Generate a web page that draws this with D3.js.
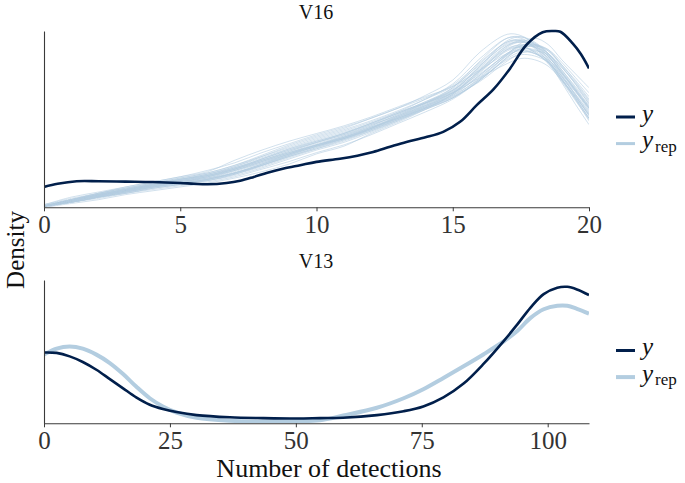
<!DOCTYPE html>
<html>
<head>
<meta charset="utf-8">
<script src="https://cdn.jsdelivr.net/npm/d3@7"></script>
<style>
  html, body { margin: 0; padding: 0; background: #ffffff; }
  svg { display: block; }
  text { font-family: "Liberation Serif", "Times New Roman", serif; }
</style>
</head>
<body>
<svg id="chart" width="685" height="483"></svg>
<script>
// ---------------- DATA ----------------
const panelTitles = ["V16", "V13"];
const xAxisTitle = "Number of detections";
const yAxisTitle = "Density";
const legendLabels = ["y", "rep"];

// Panel V16: observed density
const v16ObsX = [0, 0.5, 1.2, 2, 3, 4, 5, 5.5, 6, 6.7, 7.2, 7.7, 8.2, 8.8, 9.4, 10, 10.86, 11.5, 12.08, 12.7, 13.3, 14, 14.65, 15.27, 15.88, 16.5, 17.1, 17.7, 18.3, 18.7, 18.95, 19.4, 19.7, 20];
const v16ObsDensity = [0.0160, 0.0185, 0.0205, 0.0205, 0.0202, 0.0199, 0.0191, 0.0185, 0.0181, 0.0191, 0.0209, 0.0239, 0.0272, 0.0305, 0.0331, 0.0357, 0.0382, 0.0406, 0.0435, 0.0476, 0.0514, 0.0550, 0.0593, 0.0672, 0.0803, 0.0929, 0.1090, 0.1276, 0.1376, 0.1386, 0.1380, 0.1289, 0.1205, 0.1092];

// Panel V16: replicated densities (one array per draw)
const v16RepX = [0, 1, 2, 3, 4, 5, 6, 7, 8, 9, 10, 11, 12, 13, 14, 15, 16, 17, 17.5, 18, 18.5, 19, 19.5, 20];
const v16RepDensities = [
  [0.001,0.006,0.011,0.015,0.019,0.023,0.027,0.033,0.041,0.049,0.056,0.062,0.070,0.078,0.088,0.100,0.122,0.136,0.135,0.128,0.117,0.103,0.088,0.072],
  [0.001,0.004,0.008,0.012,0.016,0.019,0.022,0.027,0.033,0.040,0.047,0.053,0.060,0.068,0.077,0.086,0.101,0.120,0.129,0.133,0.128,0.116,0.105,0.094],
  [0.001,0.006,0.011,0.015,0.019,0.023,0.027,0.033,0.040,0.047,0.054,0.060,0.067,0.075,0.082,0.090,0.102,0.113,0.117,0.116,0.111,0.100,0.087,0.072],
  [0.002,0.008,0.012,0.016,0.020,0.024,0.028,0.037,0.045,0.052,0.058,0.064,0.071,0.079,0.087,0.095,0.108,0.121,0.124,0.121,0.114,0.100,0.086,0.070],
  [0.000,0.003,0.006,0.010,0.013,0.016,0.019,0.023,0.028,0.034,0.042,0.048,0.058,0.067,0.077,0.089,0.108,0.127,0.131,0.129,0.121,0.108,0.094,0.080],
  [0.001,0.005,0.009,0.013,0.017,0.020,0.023,0.028,0.035,0.042,0.049,0.055,0.062,0.071,0.080,0.090,0.106,0.124,0.128,0.126,0.119,0.105,0.091,0.076],
  [0.001,0.004,0.008,0.012,0.016,0.020,0.024,0.030,0.037,0.044,0.051,0.057,0.064,0.073,0.082,0.093,0.111,0.129,0.131,0.126,0.116,0.101,0.085,0.068],
  [0.001,0.005,0.010,0.014,0.018,0.021,0.024,0.029,0.036,0.043,0.050,0.056,0.063,0.070,0.078,0.086,0.100,0.118,0.125,0.127,0.123,0.112,0.099,0.085],
  [0.001,0.005,0.009,0.013,0.017,0.021,0.025,0.031,0.038,0.045,0.051,0.057,0.065,0.074,0.083,0.092,0.107,0.123,0.126,0.123,0.115,0.101,0.086,0.070],
  [0.001,0.004,0.008,0.012,0.016,0.019,0.021,0.025,0.031,0.038,0.045,0.051,0.059,0.068,0.078,0.088,0.104,0.121,0.127,0.128,0.124,0.112,0.100,0.087],
  [0.002,0.006,0.010,0.014,0.018,0.022,0.026,0.032,0.039,0.046,0.052,0.058,0.066,0.074,0.083,0.094,0.113,0.130,0.132,0.128,0.119,0.104,0.089,0.074],
  [0.001,0.005,0.009,0.013,0.016,0.019,0.022,0.026,0.032,0.039,0.046,0.053,0.061,0.070,0.079,0.089,0.103,0.119,0.124,0.124,0.118,0.106,0.093,0.079],
  [0.001,0.005,0.010,0.014,0.017,0.020,0.023,0.029,0.036,0.043,0.049,0.054,0.062,0.072,0.082,0.094,0.115,0.133,0.134,0.129,0.120,0.106,0.092,0.077],
  [0.000,0.004,0.008,0.011,0.015,0.018,0.021,0.026,0.033,0.041,0.048,0.055,0.063,0.071,0.079,0.087,0.099,0.115,0.121,0.123,0.120,0.110,0.098,0.084],
  [0.001,0.005,0.009,0.013,0.017,0.021,0.025,0.030,0.036,0.042,0.048,0.054,0.061,0.069,0.077,0.086,0.100,0.117,0.122,0.121,0.116,0.105,0.092,0.078],
  [0.001,0.006,0.010,0.014,0.018,0.022,0.025,0.030,0.037,0.044,0.051,0.058,0.066,0.075,0.085,0.097,0.117,0.133,0.133,0.126,0.114,0.098,0.081,0.065],
  [0.001,0.005,0.009,0.013,0.017,0.020,0.024,0.030,0.038,0.046,0.053,0.059,0.066,0.074,0.082,0.091,0.105,0.120,0.123,0.121,0.114,0.102,0.089,0.075],
  [0.001,0.004,0.008,0.012,0.015,0.018,0.021,0.026,0.033,0.040,0.047,0.054,0.062,0.071,0.081,0.092,0.110,0.127,0.130,0.127,0.119,0.106,0.092,0.078],
  [0.002,0.007,0.011,0.015,0.019,0.022,0.025,0.031,0.038,0.045,0.052,0.058,0.065,0.072,0.080,0.088,0.101,0.116,0.120,0.119,0.114,0.103,0.091,0.078],
  [0.001,0.005,0.009,0.013,0.017,0.020,0.023,0.027,0.034,0.041,0.048,0.054,0.061,0.069,0.078,0.089,0.107,0.126,0.130,0.128,0.121,0.108,0.095,0.082],
  [0.001,0.005,0.010,0.014,0.018,0.022,0.026,0.031,0.037,0.043,0.049,0.055,0.063,0.072,0.081,0.090,0.104,0.121,0.127,0.128,0.123,0.111,0.097,0.081],
  [0.001,0.004,0.008,0.011,0.015,0.018,0.022,0.027,0.034,0.042,0.049,0.056,0.064,0.073,0.082,0.092,0.109,0.125,0.127,0.122,0.113,0.099,0.084,0.069],
  [0.001,0.006,0.010,0.014,0.018,0.021,0.024,0.029,0.035,0.042,0.049,0.055,0.062,0.070,0.080,0.091,0.111,0.131,0.134,0.130,0.121,0.107,0.093,0.079],
  [0.001,0.005,0.009,0.013,0.016,0.019,0.022,0.027,0.034,0.041,0.048,0.054,0.062,0.070,0.078,0.087,0.102,0.120,0.126,0.126,0.121,0.110,0.097,0.083],
  [0.001,0.006,0.011,0.016,0.020,0.024,0.029,0.035,0.043,0.050,0.057,0.063,0.070,0.078,0.086,0.096,0.114,0.130,0.131,0.125,0.115,0.100,0.085,0.070],
  [0.001,0.004,0.007,0.011,0.014,0.017,0.020,0.024,0.030,0.036,0.043,0.049,0.057,0.066,0.075,0.085,0.100,0.118,0.125,0.127,0.124,0.114,0.102,0.090],
  [0.001,0.005,0.010,0.014,0.018,0.022,0.026,0.032,0.040,0.048,0.055,0.061,0.068,0.076,0.085,0.095,0.112,0.128,0.130,0.126,0.117,0.103,0.088,0.073],
  [0.001,0.005,0.009,0.012,0.016,0.019,0.022,0.027,0.033,0.040,0.046,0.052,0.060,0.069,0.079,0.090,0.108,0.124,0.126,0.122,0.114,0.101,0.087,0.073]
];
const v16Ticks = [0, 5, 10, 15, 20];

// Panel V13: observed and replicated densities
const v13X = [0, 2.5, 5.1, 7.7, 10.4, 13, 15.7, 18.3, 21, 23.6, 26.3, 30.3, 36.9, 43.5, 50.2, 54.8, 59.4, 66.1, 71.4, 75.3, 79.3, 83.3, 87.3, 91.3, 93.9, 96.6, 99.2, 101.9, 103.9, 105.8, 108.2];
const v13ObsDensity = [0.0164, 0.0163, 0.0155, 0.0142, 0.0124, 0.0103, 0.0081, 0.0060, 0.0043, 0.0033, 0.0026, 0.0019, 0.0014, 0.0012, 0.0011, 0.0012, 0.0013, 0.0019, 0.0028, 0.0039, 0.0060, 0.0092, 0.0138, 0.0191, 0.0228, 0.0268, 0.0299, 0.0314, 0.0316, 0.0310, 0.0297];
const v13RepDensity = [0.0159, 0.0173, 0.0178, 0.0173, 0.0159, 0.0140, 0.0114, 0.0085, 0.0058, 0.0039, 0.0025, 0.0013, 0.0006, 0.0004, 0.0005, 0.0007, 0.0018, 0.0036, 0.0058, 0.0079, 0.0105, 0.0132, 0.0160, 0.0190, 0.0213, 0.0244, 0.0264, 0.0272, 0.0272, 0.0265, 0.0254];
const v13Ticks = [0, 25, 50, 75, 100];

// ---------------- STYLE ----------------
const colY = "#011f4b";
const colRep = "#b3cde0";
const fontFam = '"Liberation Serif", "Times New Roman", serif';

const svg = d3.select("#chart");
const curve = d3.curveCatmullRom.alpha(0.5);

function panel(cfg) {
  const g = svg.append("g");
  const x = d3.scaleLinear().domain(cfg.xDomain).range([44, 589]);
  const y = d3.scaleLinear().domain([0, cfg.yMax]).range([cfg.bottom, cfg.top]);

  const clipId = "clip" + cfg.id;
  svg.append("clipPath").attr("id", clipId).append("rect")
    .attr("x", 44).attr("y", cfg.top - 5).attr("width", 545).attr("height", cfg.bottom - cfg.top + 5);

  const plot = g.append("g").attr("clip-path", `url(#${clipId})`);

  // replicated lines
  cfg.reps.forEach(r => {
    const line = d3.line().x((d, i) => x(r.x[i])).y(d => y(d)).curve(curve);
    plot.append("path").datum(r.d)
      .attr("d", line)
      .attr("fill", "none")
      .attr("stroke", colRep)
      .attr("stroke-opacity", r.opacity)
      .attr("stroke-width", r.width)
      .attr("stroke-linejoin", "round");
  });
  // observed
  const lineObs = d3.line().x((d, i) => x(cfg.obsX[i])).y(d => y(d)).curve(curve);
  plot.append("path").datum(cfg.obsD)
    .attr("d", lineObs)
    .attr("fill", "none")
    .attr("stroke", colY)
    .attr("stroke-width", 2.6)
    .attr("stroke-linejoin", "round");

  // axes
  const xAxis = d3.axisBottom(x).tickValues(cfg.ticks).tickSize(4).tickSizeOuter(0).tickPadding(4)
    .tickFormat(d3.format("d"));
  const gx = g.append("g").attr("transform", `translate(0,${cfg.bottom})`).call(xAxis);
  gx.select(".domain").attr("stroke", "#3a3a3a").attr("stroke-width", 1.1);
  gx.selectAll(".tick line").attr("stroke", "#3a3a3a").attr("stroke-width", 1);
  gx.selectAll(".tick text").attr("fill", "#333").attr("font-size", 25).attr("font-family", fontFam);

  const yAxis = d3.axisLeft(y).tickValues([]).tickSizeOuter(0);
  const gy = g.append("g").attr("transform", `translate(44,0)`).call(yAxis);
  gy.select(".domain").attr("stroke", "#3a3a3a").attr("stroke-width", 1.1);

  // title
  g.append("text").attr("x", 316).attr("y", cfg.titleY)
    .attr("text-anchor", "middle").attr("font-size", 20).attr("fill", "#111")
    .text(cfg.title);

  // legend
  const ly = cfg.legendY;
  g.append("line").attr("x1", 616).attr("x2", 635).attr("y1", ly).attr("y2", ly)
    .attr("stroke", colY).attr("stroke-width", 3);
  g.append("line").attr("x1", 616).attr("x2", 635).attr("y1", ly + 26.6).attr("y2", ly + 26.6)
    .attr("stroke", colRep).attr("stroke-width", cfg.legendRepWidth);
  g.append("text").attr("x", 642).attr("y", ly + 4.5)
    .attr("font-size", 25).attr("font-style", "italic").attr("fill", "#111").text(legendLabels[0]);
  const t2 = g.append("text").attr("x", 642).attr("y", ly + 26.6 + 4.5)
    .attr("font-size", 25).attr("fill", "#111");
  t2.append("tspan").attr("font-style", "italic").text(legendLabels[0]);
  t2.append("tspan").attr("font-size", 17).attr("dx", 2).attr("dy", 3.5).text(legendLabels[1]);
}

const v16Max = d3.max([d3.max(v16ObsDensity), d3.max(v16RepDensities.flat())]);
panel({
  id: "a", title: panelTitles[0], titleY: 18.5,
  xDomain: [0, 20], yMax: v16Max, top: 31, bottom: 207.3,
  ticks: v16Ticks,
  obsX: v16ObsX, obsD: v16ObsDensity,
  reps: v16RepDensities.map(d => ({ x: v16RepX, d: d, width: 0.8, opacity: 0.75 })),
  legendY: 117, legendRepWidth: 3
});

const v13Max = d3.max([d3.max(v13ObsDensity), d3.max(v13RepDensity)]) * 1.05;
panel({
  id: "b", title: panelTitles[1], titleY: 268,
  xDomain: [0, 108.2], yMax: v13Max, top: 280, bottom: 423.3,
  ticks: v13Ticks,
  obsX: v13X, obsD: v13ObsDensity,
  reps: [{ x: v13X, d: v13RepDensity, width: 4, opacity: 1 }],
  legendY: 350.5, legendRepWidth: 4
});

// axis titles
svg.append("text").attr("x", 329).attr("y", 476.5)
  .attr("text-anchor", "middle").attr("font-size", 26).attr("fill", "#111")
  .text(xAxisTitle);
svg.append("text")
  .attr("transform", "translate(23.5,250) rotate(-90)")
  .attr("text-anchor", "middle").attr("font-size", 25).attr("fill", "#111")
  .text(yAxisTitle);
</script>
</body>
</html>
